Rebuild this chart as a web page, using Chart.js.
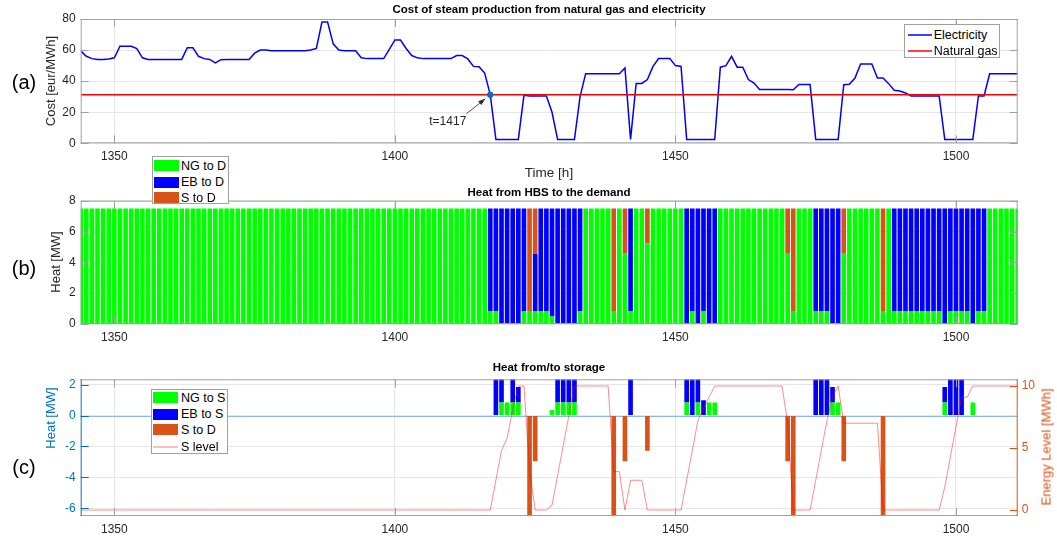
<!DOCTYPE html>
<html>
<head>
<meta charset="utf-8">
<title>Cost of steam production</title>
<script src="https://cdn.jsdelivr.net/npm/chart.js@4.4.1/dist/chart.umd.min.js"></script>
<style>
  html, body { margin: 0; padding: 0; background: #fff; }
  #page { position: relative; width: 1057px; height: 543px; overflow: hidden;
          font-family: "Liberation Sans", Arial, Helvetica, sans-serif; color: #262626; }
  #page canvas { position: absolute; left: 0; }
  .txt { position: absolute; white-space: nowrap; line-height: 1; }
  .title { font-weight: bold; font-size: 11.5px; color: #000; transform: translate(-50%, -50%); }
  .xlab { font-size: 13.5px; transform: translate(-50%, -50%); }
  .ylab { font-size: 13px; transform: translate(-50%, -50%) rotate(-90deg); }
  .panel { font-size: 20px; color: #000; transform: translate(-50%, -50%); }
  .legend { position: absolute; background: #fff; border: 1px solid #a0a0a0; box-sizing: border-box;
            font-size: 12.5px; color: #000; }
  .legend .row { position: absolute; left: 0; right: 0; height: 16px; }
  .legend .sw { position: absolute; top: 0; }
  .legend .rect { top: 2.5px; height: 11px; }
  .legend .lab { position: absolute; top: 0; line-height: 16px; }
</style>
</head>
<body>
<div id="page">
  <canvas id="costChart" width="1057" height="170" style="top:0"></canvas>
  <canvas id="demandChart" width="1057" height="180" style="top:170px"></canvas>
  <canvas id="storageChart" width="1057" height="193" style="top:350px"></canvas>

  <div class="txt title" style="left:549px; top:10.3px">Cost of steam production from natural gas and electricity</div>
  <div class="txt title" style="left:549px; top:192.7px">Heat from HBS to the demand</div>
  <div class="txt title" style="left:549px; top:368.3px">Heat from/to storage</div>

  <div class="txt xlab" style="left:549px; top:173.4px">Time [h]</div>

  <div class="txt ylab" style="left:50px; top:81px">Cost [eur/MWh]</div>
  <div class="txt ylab" style="left:55px; top:262px">Heat [MW]</div>
  <div class="txt ylab" style="left:50px; top:418px; color:#0072BD">Heat [MW]</div>
  <div class="txt ylab" style="left:1046px; top:447px; color:#D95319">Energy Level [MWh]</div>

  <div class="txt panel" style="left:24px; top:81.5px">(a)</div>
  <div class="txt panel" style="left:24px; top:268px">(b)</div>
  <div class="txt panel" style="left:24px; top:467px">(c)</div>

  <div class="legend" style="left:904px; top:24px; width:96px; height:34px">
    <div class="row" style="top:2.3px">
      <svg class="sw" style="left:2.7px" width="24" height="16"><line x1="0" y1="8" x2="24" y2="8" stroke="#0000FF" stroke-width="1.5"/></svg>
      <div class="lab" style="left:28.7px">Electricity</div>
    </div>
    <div class="row" style="top:18px">
      <svg class="sw" style="left:2.7px" width="24" height="16"><line x1="0" y1="8" x2="24" y2="8" stroke="#FF0000" stroke-width="1.5"/></svg>
      <div class="lab" style="left:28.7px">Natural gas</div>
    </div>
  </div>

  <div class="legend" style="left:152px; top:156px; width:77px; height:48px">
    <div class="row" style="top:0.7px"><div class="sw rect" style="left:1.3px; width:24.7px; background:#00FF00"></div><div class="lab" style="left:28px">NG to D</div></div>
    <div class="row" style="top:17.3px"><div class="sw rect" style="left:1.3px; width:24.7px; background:#0000FF"></div><div class="lab" style="left:28px">EB to D</div></div>
    <div class="row" style="top:32.7px"><div class="sw rect" style="left:1.3px; width:24.7px; background:#D95319"></div><div class="lab" style="left:28px">S to D</div></div>
  </div>

  <div class="legend" style="left:150.7px; top:388.7px; width:77.3px; height:65.3px">
    <div class="row" style="top:0px"><div class="sw rect" style="left:1.6px; width:25px; background:#00FF00"></div><div class="lab" style="left:29.3px">NG to S</div></div>
    <div class="row" style="top:16.6px"><div class="sw rect" style="left:1.6px; width:25px; background:#0000FF"></div><div class="lab" style="left:29.3px">EB to S</div></div>
    <div class="row" style="top:32.3px"><div class="sw rect" style="left:1.6px; width:25px; background:#D95319"></div><div class="lab" style="left:29.3px">S to D</div></div>
    <div class="row" style="top:49px">
      <svg class="sw" style="left:1.6px" width="25" height="16"><line x1="0" y1="8" x2="25" y2="8" stroke="#FF8080" stroke-width="1"/></svg>
      <div class="lab" style="left:29.3px">S level</div>
    </div>
  </div>
</div>

<script>
// hours 1344 .. 1511
const hours = [];
for (let h = 1344; h <= 1511; h++) hours.push(h);

const xTicks = [1350, 1400, 1450, 1500];
const costTicks = [0, 20, 40, 60, 80];
const heatTicks = [0, 2, 4, 6, 8];
const storageTicks = [-6, -4, -2, 0, 2];
const levelTicks = [0, 5, 10];

// eur/MWh, one value per hour
const electricity = [
    59.5, 56, 54.5, 54, 54, 54.2, 55, 62.5, 62.5, 62.5, 61, 55,
    54, 54, 54, 54, 54, 54, 54, 61.5, 61.5, 56, 54.5, 54,
    51.7, 53.8, 54, 54, 54, 54, 54, 58, 60, 60, 59.5, 59.5,
    59.5, 59.5, 59.5, 59.5, 59.5, 60, 61, 78, 78, 64, 60, 59.5,
    59.5, 59.5, 55, 54.5, 54.5, 54.5, 54.5, 60.5, 66.5, 66.5, 61, 56.5,
    55, 54.5, 54.5, 54.5, 54.5, 54.5, 54.5, 56.5, 56.5, 54.3, 49.5, 49.3,
    45.2, 31.2, 2.5, 2.5, 2.5, 2.5, 2.5, 31, 30.5, 30.5, 30.5, 30.5,
    20, 2.5, 2.5, 2.5, 2.5, 30, 44.8, 44.8, 44.8, 44.8, 44.8, 44.8,
    44.8, 48.5, 2.5, 38.5, 38.5, 41, 49.5, 54.5, 54.5, 54.5, 50, 49.5,
    2.5, 2.5, 2.5, 2.5, 2.5, 2.5, 49, 50, 56, 49, 49, 41,
    38.8, 34.7, 34.7, 34.7, 34.7, 34.7, 34.7, 34.5, 37.8, 37.8, 37.8, 2.5,
    2.5, 2.5, 2.5, 2.5, 37.7, 38, 42, 51, 51, 51, 42, 42,
    38.4, 34.1, 33.7, 32.4, 30.5, 30.5, 30.5, 30.5, 30.5, 30.5, 2.5, 2.5,
    2.5, 2.5, 2.5, 2.5, 30.5, 30.5, 44.8, 44.8, 44.8, 44.8, 44.8, 44.8
];
const gasPrice = 31.2;
const crossingHour = 1417;

// MW to the demand
const ngToDemand = [
    7.5, 7.5, 7.5, 7.5, 7.5, 7.5, 7.5, 7.5, 7.5, 7.5, 7.5, 7.5,
    7.5, 7.5, 7.5, 7.5, 7.5, 7.5, 7.5, 7.5, 7.5, 7.5, 7.5, 7.5,
    7.5, 7.5, 7.5, 7.5, 7.5, 7.5, 7.5, 7.5, 7.5, 7.5, 7.5, 7.5,
    7.5, 7.5, 7.5, 7.5, 7.5, 7.5, 7.5, 7.5, 7.5, 7.5, 7.5, 7.5,
    7.5, 7.5, 7.5, 7.5, 7.5, 7.5, 7.5, 7.5, 7.5, 7.5, 7.5, 7.5,
    7.5, 7.5, 7.5, 7.5, 7.5, 7.5, 7.5, 7.5, 7.5, 7.5, 7.5, 7.5,
    7.5, 0.85, 0.85, 0, 0, 0, 0, 0.85, 0.85, 0.85, 0.85, 0.85,
    0.48, 0, 0, 0, 0, 0.85, 7.5, 7.5, 7.5, 7.5, 7.5, 0.85,
    7.5, 4.55, 0.85, 7.5, 7.5, 5.23, 7.5, 7.5, 7.5, 7.5, 7.5, 7.5,
    0, 0.85, 0, 0.85, 0, 0, 7.5, 7.5, 7.5, 7.5, 7.5, 7.5,
    7.5, 7.5, 7.5, 7.5, 7.5, 7.5, 4.55, 0.85, 7.5, 7.5, 7.5, 0.85,
    0.85, 0.85, 0, 0, 4.55, 7.5, 7.5, 7.5, 7.5, 7.5, 7.5, 0.85,
    7.5, 0.85, 0.85, 0.85, 0.85, 0.85, 0.85, 0.85, 0.85, 0.85, 0, 0.85,
    0.85, 0.85, 0.85, 0, 0.85, 0.85, 7.5, 7.5, 7.5, 7.5, 7.5, 7.5
];
const ebToDemand = [
    0, 0, 0, 0, 0, 0, 0, 0, 0, 0, 0, 0,
    0, 0, 0, 0, 0, 0, 0, 0, 0, 0, 0, 0,
    0, 0, 0, 0, 0, 0, 0, 0, 0, 0, 0, 0,
    0, 0, 0, 0, 0, 0, 0, 0, 0, 0, 0, 0,
    0, 0, 0, 0, 0, 0, 0, 0, 0, 0, 0, 0,
    0, 0, 0, 0, 0, 0, 0, 0, 0, 0, 0, 0,
    0, 6.65, 6.65, 7.5, 7.5, 7.5, 7.5, 6.65, 0, 3.7, 6.65, 6.65,
    7.02, 7.5, 7.5, 7.5, 7.5, 6.65, 0, 0, 0, 0, 0, 0,
    0, 0, 6.65, 0, 0, 0, 0, 0, 0, 0, 0, 0,
    7.5, 6.65, 7.5, 6.65, 7.5, 7.5, 0, 0, 0, 0, 0, 0,
    0, 0, 0, 0, 0, 0, 0, 0, 0, 0, 0, 6.65,
    6.65, 6.65, 7.5, 7.5, 0, 0, 0, 0, 0, 0, 0, 0,
    0, 6.65, 6.65, 6.65, 6.65, 6.65, 6.65, 6.65, 6.65, 6.65, 7.5, 6.65,
    6.65, 6.65, 6.65, 7.5, 6.65, 6.65, 0, 0, 0, 0, 0, 0
];
const storageToDemand = [
    0, 0, 0, 0, 0, 0, 0, 0, 0, 0, 0, 0,
    0, 0, 0, 0, 0, 0, 0, 0, 0, 0, 0, 0,
    0, 0, 0, 0, 0, 0, 0, 0, 0, 0, 0, 0,
    0, 0, 0, 0, 0, 0, 0, 0, 0, 0, 0, 0,
    0, 0, 0, 0, 0, 0, 0, 0, 0, 0, 0, 0,
    0, 0, 0, 0, 0, 0, 0, 0, 0, 0, 0, 0,
    0, 0, 0, 0, 0, 0, 0, 0, 6.65, 2.95, 0, 0,
    0, 0, 0, 0, 0, 0, 0, 0, 0, 0, 0, 6.65,
    0, 2.95, 0, 0, 0, 2.27, 0, 0, 0, 0, 0, 0,
    0, 0, 0, 0, 0, 0, 0, 0, 0, 0, 0, 0,
    0, 0, 0, 0, 0, 0, 2.95, 6.65, 0, 0, 0, 0,
    0, 0, 0, 0, 2.95, 0, 0, 0, 0, 0, 0, 6.65,
    0, 0, 0, 0, 0, 0, 0, 0, 0, 0, 0, 0,
    0, 0, 0, 0, 0, 0, 0, 0, 0, 0, 0, 0
];

// MW into the storage
const ngToStorage = [
    0, 0, 0, 0, 0, 0, 0, 0, 0, 0, 0, 0,
    0, 0, 0, 0, 0, 0, 0, 0, 0, 0, 0, 0,
    0, 0, 0, 0, 0, 0, 0, 0, 0, 0, 0, 0,
    0, 0, 0, 0, 0, 0, 0, 0, 0, 0, 0, 0,
    0, 0, 0, 0, 0, 0, 0, 0, 0, 0, 0, 0,
    0, 0, 0, 0, 0, 0, 0, 0, 0, 0, 0, 0,
    0, 0, 0, 0.85, 0.85, 0.85, 0.85, 0, 0, 0, 0, 0,
    0.37, 0.85, 0.85, 0.85, 0.85, 0, 0, 0, 0, 0, 0, 0,
    0, 0, 0, 0, 0, 0, 0, 0, 0, 0, 0, 0,
    0.85, 0, 0.85, 0, 0.85, 0.85, 0, 0, 0, 0, 0, 0,
    0, 0, 0, 0, 0, 0, 0, 0, 0, 0, 0, 0,
    0, 0, 0.85, 0.85, 0, 0, 0, 0, 0, 0, 0, 0,
    0, 0, 0, 0, 0, 0, 0, 0, 0, 0, 0.85, 0,
    0, 0, 0, 0.85, 0, 0, 0, 0, 0, 0, 0, 0
];
const ebToStorage = [
    0, 0, 0, 0, 0, 0, 0, 0, 0, 0, 0, 0,
    0, 0, 0, 0, 0, 0, 0, 0, 0, 0, 0, 0,
    0, 0, 0, 0, 0, 0, 0, 0, 0, 0, 0, 0,
    0, 0, 0, 0, 0, 0, 0, 0, 0, 0, 0, 0,
    0, 0, 0, 0, 0, 0, 0, 0, 0, 0, 0, 0,
    0, 0, 0, 0, 0, 0, 0, 0, 0, 0, 0, 0,
    0, 0, 2.4, 1.6, 0, 1.6, 1.0, 0, 0, 0, 0, 0,
    0, 1.6, 1.6, 1.6, 1.6, 0, 0, 0, 0, 0, 0, 0,
    0, 0, 2.4, 0, 0, 0, 0, 0, 0, 0, 0, 0,
    1.6, 2.4, 1.6, 1.0, 0, 0, 0, 0, 0, 0, 0, 0,
    0, 0, 0, 0, 0, 0, 0, 0, 0, 0, 0, 2.4,
    2.4, 2.4, 1.0, 0, 0, 0, 0, 0, 0, 0, 0, 0,
    0, 0, 0, 0, 0, 0, 0, 0, 0, 0, 1.0, 2.4,
    2.4, 2.4, 0, 0, 0, 0, 0, 0, 0, 0, 0, 0
];
// MWh stored
const storageLevel = [
    0, 0, 0, 0, 0, 0, 0, 0, 0, 0, 0, 0,
    0, 0, 0, 0, 0, 0, 0, 0, 0, 0, 0, 0,
    0, 0, 0, 0, 0, 0, 0, 0, 0, 0, 0, 0,
    0, 0, 0, 0, 0, 0, 0, 0, 0, 0, 0, 0,
    0, 0, 0, 0, 0, 0, 0, 0, 0, 0, 0, 0,
    0, 0, 0, 0, 0, 0, 0, 0, 0, 0, 0, 0,
    0, 0, 2.4, 4.8, 5.8, 8.1, 10, 10, 3.3, 0, 0, 0,
    0.4, 2.8, 5.2, 7.6, 10, 10, 10, 10, 10, 10, 10, 3.1,
    3.1, 0, 2.4, 2.4, 2.4, 0, 0, 0, 0, 0, 0, 0,
    2.4, 4.8, 7.2, 8.2, 9.1, 10, 10, 10, 10, 10, 10, 10,
    10, 10, 10, 10, 10, 10, 7, 0, 0, 0, 0, 2.4,
    4.8, 7.2, 9.1, 10, 7, 7, 7, 7, 7, 7, 7, 0,
    0, 0, 0, 0, 0, 0, 0, 0, 0, 0, 1.85, 4.3,
    6.7, 9.1, 9.1, 10, 10, 10, 10, 10, 10, 10, 10, 10
];

const GREEN = '#00FF00', BLUE = '#0000FF', ORANGE = '#D95319', AXBLUE = '#0072BD';
const gridColor = '#e6e6e6';
const frameColor = '#a0a0a0';
const tickFont = { family: '"Liberation Sans", Arial, Helvetica, sans-serif', size: 12 };
const plotLeft = 80.7, plotRightGap = 39.3;

const pts = arr => hours.map((h, i) => ({ x: h, y: arr[i] }));

function timeAxis(height) {
    return {
        type: 'linear', min: hours[0], max: hours[hours.length - 1],
        offset: false,
        stacked: true,
        afterBuildTicks: axis => { axis.ticks = xTicks.map(v => ({ value: v })); },
        afterFit: axis => { axis.height = height; },
        grid: { color: gridColor, drawTicks: false, offset: false },
        border: { display: false },
        ticks: { font: tickFont, color: '#262626', padding: 6, maxRotation: 0, callback: v => String(v) }
    };
}

function valueAxis(ticks, min, max, opts = {}) {
    return {
        type: 'linear', min, max,
        position: opts.position || 'left',
        stacked: !!opts.stacked,
        afterBuildTicks: axis => { axis.ticks = ticks.map(v => ({ value: v })); },
        afterFit: axis => { axis.width = opts.width || plotLeft; },
        grid: { color: gridColor, drawTicks: false, display: opts.grid !== false },
        border: { display: false },
        ticks: { font: tickFont, color: opts.color || '#262626', padding: opts.padding || 5, callback: v => String(v) }
    };
}

// box, inward tick marks and an optional zero line
const framePlugin = {
    id: 'frame',
    beforeDatasetsDraw(chart, args, opts) {
        if (!opts.zeroLine) return;
        const { ctx, chartArea: a, scales } = chart;
        const py = Math.round(scales.y.getPixelForValue(0)) + 0.5;
        ctx.save();
        ctx.strokeStyle = opts.zeroLine;
        ctx.lineWidth = 1;
        ctx.beginPath(); ctx.moveTo(a.left, py); ctx.lineTo(a.right, py); ctx.stroke();
        ctx.restore();
    },
    afterDatasetsDraw(chart, args, opts) {
        const { ctx, chartArea: a, scales } = chart;
        const len = 8;
        const seg = (x1, y1, x2, y2) => { ctx.beginPath(); ctx.moveTo(x1, y1); ctx.lineTo(x2, y2); ctx.stroke(); };
        ctx.save();
        ctx.lineWidth = 1;
        ctx.strokeStyle = frameColor;
        seg(a.left, a.top + 0.5, a.right, a.top + 0.5);
        seg(a.left, a.bottom - 0.5, a.right, a.bottom - 0.5);
        scales.x.ticks.forEach(t => {
            const px = Math.round(scales.x.getPixelForValue(t.value)) + 0.5;
            seg(px, a.bottom, px, a.bottom - len);
            seg(px, a.top, px, a.top + len);
        });
        ctx.strokeStyle = opts.leftColor || frameColor;
        seg(a.left + 0.5, a.top, a.left + 0.5, a.bottom);
        scales.y.ticks.forEach(t => {
            const py = Math.round(scales.y.getPixelForValue(t.value)) + 0.5;
            seg(a.left, py, a.left + len, py);
        });
        ctx.strokeStyle = opts.rightColor || frameColor;
        seg(a.right - 0.5, a.top, a.right - 0.5, a.bottom);
        const rightScale = scales.y1 || scales.y;
        rightScale.ticks.forEach(t => {
            const py = Math.round(rightScale.getPixelForValue(t.value)) + 0.5;
            seg(a.right, py, a.right - len, py);
        });
        ctx.restore();
    }
};

// "t=1417" arrow pointing to the crossing
const crossingNote = {
    id: 'crossingNote',
    afterDatasetsDraw(chart) {
        const { ctx, scales: { x, y } } = chart;
        const px = x.getPixelForValue(crossingHour);
        const py = y.getPixelForValue(electricity[hours.indexOf(crossingHour)]);
        const tip = { x: px - 5, y: py + 4 }, tail = { x: px - 24, y: py + 19 };
        const ang = Math.atan2(tip.y - tail.y, tip.x - tail.x);
        ctx.save();
        ctx.strokeStyle = '#262626';
        ctx.fillStyle = '#262626';
        ctx.lineWidth = 0.8;
        ctx.beginPath(); ctx.moveTo(tail.x, tail.y); ctx.lineTo(tip.x, tip.y); ctx.stroke();
        ctx.beginPath();
        ctx.moveTo(tip.x, tip.y);
        ctx.lineTo(tip.x - 7 * Math.cos(ang) + 2.5 * Math.sin(ang), tip.y - 7 * Math.sin(ang) - 2.5 * Math.cos(ang));
        ctx.lineTo(tip.x - 7 * Math.cos(ang) - 2.5 * Math.sin(ang), tip.y - 7 * Math.sin(ang) + 2.5 * Math.cos(ang));
        ctx.closePath(); ctx.fill();
        ctx.font = '12px "Liberation Sans", Arial, sans-serif';
        ctx.textAlign = 'center';
        ctx.textBaseline = 'middle';
        ctx.fillText('t=' + crossingHour, px - 42.5, py + 26.5);
        ctx.restore();
    }
};

const common = {
    responsive: false,
    animation: false,
    events: [],
    plugins: { legend: { display: false }, tooltip: { enabled: false } }
};

new Chart(document.getElementById('costChart'), {
    type: 'line',
    data: {
        datasets: [
            {
                label: 't=' + crossingHour,
                data: [{ x: crossingHour, y: electricity[hours.indexOf(crossingHour)] }],
                showLine: false, pointRadius: 2.8, pointBackgroundColor: AXBLUE,
                pointBorderColor: AXBLUE, order: 0
            },
            {
                label: 'Natural gas',
                data: hours.map(h => ({ x: h, y: gasPrice })),
                borderColor: '#FF0000', borderWidth: 1.5, pointRadius: 0, order: 1
            },
            {
                label: 'Electricity',
                data: pts(electricity),
                borderColor: BLUE, borderWidth: 1.5, pointRadius: 0, tension: 0, order: 2
            }
        ]
    },
    options: {
        ...common,
        layout: { padding: { left: 0, right: plotRightGap, top: 19, bottom: 0 } },
        scales: {
            x: timeAxis(26.7),
            y: valueAxis(costTicks, 0, 80)
        },
        plugins: { ...common.plugins, frame: {} }
    },
    plugins: [framePlugin, crossingNote]
});

const barStyle = { borderWidth: 0, barPercentage: 0.83, categoryPercentage: 1, order: 1 };

new Chart(document.getElementById('demandChart'), {
    type: 'bar',
    data: {
        datasets: [
            { label: 'NG to D', data: pts(ngToDemand), backgroundColor: GREEN, ...barStyle },
            { label: 'EB to D', data: pts(ebToDemand), backgroundColor: BLUE, ...barStyle },
            { label: 'S to D', data: pts(storageToDemand), backgroundColor: ORANGE, ...barStyle }
        ]
    },
    options: {
        ...common,
        layout: { padding: { left: 0, right: plotRightGap, top: 30.7, bottom: 0 } },
        scales: {
            x: timeAxis(26),
            y: valueAxis(heatTicks, 0, 8, { stacked: true })
        },
        plugins: { ...common.plugins, frame: {} }
    },
    plugins: [framePlugin]
});

new Chart(document.getElementById('storageChart'), {
    type: 'bar',
    data: {
        datasets: [
            { label: 'NG to S', data: pts(ngToStorage), backgroundColor: GREEN, ...barStyle },
            { label: 'EB to S', data: pts(ebToStorage), backgroundColor: BLUE, ...barStyle },
            { label: 'S to D', data: pts(storageToDemand.map(v => -v)), backgroundColor: ORANGE, ...barStyle },
            {
                type: 'line', label: 'S level', data: pts(storageLevel), yAxisID: 'y1',
                borderColor: 'rgba(255, 0, 0, 0.45)', borderWidth: 1, pointRadius: 0, tension: 0, order: 0
            }
        ]
    },
    options: {
        ...common,
        layout: { padding: { left: 0, right: 0, top: 29.3, bottom: 0 } },
        scales: {
            x: timeAxis(27),
            y: valueAxis(storageTicks, -6.5, 2.35, { stacked: true, color: AXBLUE }),
            y1: valueAxis(levelTicks, -0.48, 10.54, { position: 'right', width: plotRightGap, color: ORANGE, grid: false, padding: 4 })
        },
        plugins: { ...common.plugins, frame: { leftColor: AXBLUE, rightColor: ORANGE, zeroLine: '#8dbbe3' } }
    },
    plugins: [framePlugin]
});
</script>
</body>
</html>
